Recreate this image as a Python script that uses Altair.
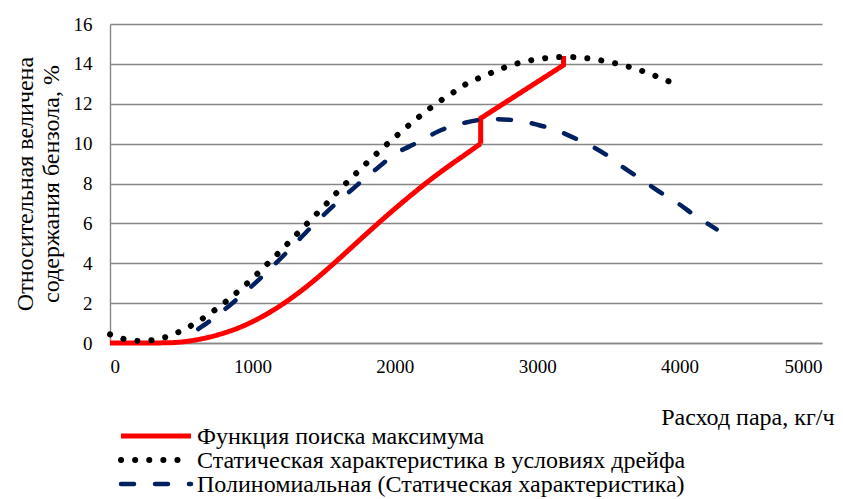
import altair as alt
import pandas as pd

series_names = [
    "Функция поиска максимума",
    "Статическая характеристика в условиях дрейфа",
    "Полиномиальная (Статическая характеристика)",
]

# red curve: smooth part up to the first step, then the stepped linear part
search_x = [0, 200, 400, 500, 600, 700, 800, 900, 1000, 1100, 1200, 1300, 1400, 1500,
            1600, 1700, 1800, 1900, 2000, 2100, 2200, 2300, 2400, 2500, 2603]
search_y = [0, 0, 0.01, 0.05, 0.15, 0.3, 0.5, 0.75, 1.07, 1.45, 1.89, 2.39, 2.94, 3.54,
            4.17, 4.82, 5.47, 6.11, 6.73, 7.33, 7.91, 8.46, 8.98, 9.48, 10.0]
step_x = [2603, 2603, 3185, 3185]
step_y = [10.0, 11.27, 13.94, 14.39]

drift_x = [0, 100, 200, 300, 400, 500, 600, 700, 800, 900, 1000, 1100, 1200, 1300, 1400,
           1500, 1600, 1700, 1800, 1900, 2000, 2100, 2200, 2300, 2400, 2500, 2600, 2700,
           2800, 2900, 3000, 3100, 3200, 3300, 3400, 3500, 3600, 3700, 3800, 3900, 4000]
drift_y = [0.43, 0.19, 0.1, 0.14, 0.31, 0.6, 0.99, 1.46, 2.0, 2.59, 3.23, 3.93, 4.63, 5.37, 6.11,
           6.83, 7.6, 8.31, 9.01, 9.68, 10.32, 10.93, 11.52, 12.06, 12.52, 12.99, 13.32, 13.62,
           13.9, 14.1, 14.24, 14.32, 14.36, 14.32, 14.24, 14.11, 13.94, 13.74, 13.48, 13.2, 12.88]

poly_x = [620, 700, 800, 900, 1000, 1100, 1200, 1300, 1400, 1500, 1600, 1700, 1800, 1900,
          2000, 2100, 2200, 2300, 2400, 2500, 2600, 2700, 2800, 2900, 3000, 3100, 3200,
          3300, 3400, 3500, 3600, 3700, 3800, 3900, 4000, 4100, 4200, 4260]
poly_y = [0.7, 1.1, 1.65, 2.25, 2.88, 3.55, 4.25, 4.98, 5.72, 6.42, 7.08, 7.7, 8.32, 8.9,
          9.48, 9.85, 10.2, 10.6, 10.87, 11.06, 11.19, 11.23, 11.2, 11.12, 10.95, 10.75, 10.48,
          10.15, 9.8, 9.37, 8.83, 8.36, 7.87, 7.39, 6.95, 6.43, 5.97, 5.7]

x_ticks = [0, 1000, 2000, 3000, 4000, 5000]
y_ticks = [0, 2, 4, 6, 8, 10, 12, 14, 16]

x_title = "Расход пара, кг/ч"
y_title = ["Относительная величена", "содержания бензола, %"]

colors = ["#ff0000", "#000000", "#002060"]
dashes = [[1, 0], [0.1, 14], [13, 21]]
widths = [5, 6, 4.5]
caps = ["butt", "round", "round"]

FONT = "Liberation Serif"
FS_TICK = 19
FS_TEXT = 24
W, H = 712, 319
GRID = "#878787"

x_enc = alt.X(
    "x:Q",
    scale=alt.Scale(domain=[0, 5000], nice=False),
    axis=alt.Axis(
        values=x_ticks, format="d", title=x_title, grid=False, ticks=False,
        domainColor=GRID, domainWidth=1.4,
        labelFont=FONT, labelFontSize=FS_TICK, labelColor="#000000", labelPadding=14,
        titleFont=FONT, titleFontSize=FS_TEXT, titleFontWeight="normal", titleColor="#000000",
        titleAnchor="end", titleAlign="right", titleBaseline="middle",
        titleX=724, titleY=74,
    ),
)
y_enc = alt.Y(
    "y:Q",
    scale=alt.Scale(domain=[0, 16], nice=False),
    axis=alt.Axis(
        values=y_ticks, title=y_title, grid=True, gridColor=GRID, gridWidth=1.4,
        ticks=False, domainColor=GRID, domainWidth=1.4,
        labelFont=FONT, labelFontSize=FS_TICK, labelColor="#000000", labelPadding=18,
        titleFont=FONT, titleFontSize=FS_TEXT, titleFontWeight="normal", titleColor="#000000",
        titleAngle=270, titleAlign="center", titleBaseline="middle", titleLineHeight=26,
        titleX=-85, titleY=H / 2,
    ),
)

def frame(name, xs, ys):
    return pd.DataFrame({"series": name, "x": xs, "y": ys, "order": list(range(len(xs)))})

parts = [
    (frame(series_names[0], search_x, search_y), 0, "monotone"),
    (frame(series_names[0], step_x, step_y), 0, "linear"),
    (frame(series_names[1], drift_x, drift_y), 1, "linear"),
    (frame(series_names[2], poly_x, poly_y), 2, "monotone"),
]

layers = []
for f, i, interp in parts:
    layers.append(
        alt.Chart(f).mark_line(
            color=colors[i], strokeDash=dashes[i], strokeWidth=widths[i],
            strokeCap=caps[i], strokeJoin="miter", interpolate=interp, clip=False,
        ).encode(x=x_enc, y=y_enc, order="order:Q")
    )

# legend below the plot
leg_top = 412
leg_step = 24
for i, name in enumerate(series_names):
    ld = pd.DataFrame({"label": [name]})
    yy = leg_top + i * leg_step
    layers.append(
        alt.Chart(ld).mark_rule(
            color=colors[i], strokeDash=dashes[i], strokeWidth=widths[i], strokeCap=caps[i]
        ).encode(x=alt.value(11), x2=alt.value(81), y=alt.value(yy))
    )
    layers.append(
        alt.Chart(ld).mark_text(
            align="left", baseline="middle", font=FONT, fontSize=FS_TEXT, color="#000000"
        ).encode(x=alt.value(87), y=alt.value(yy + 1), text="label:N")
    )

chart = alt.layer(*layers).properties(
    width=W, height=H,
    padding={"left": 102, "top": 16, "right": 13, "bottom": 156},
    autosize=alt.AutoSizeParams(type="none"),
    background="#ffffff",
).configure_view(stroke=None)

chart.save("out.html", embed_options={"renderer": "svg", "actions": False})
